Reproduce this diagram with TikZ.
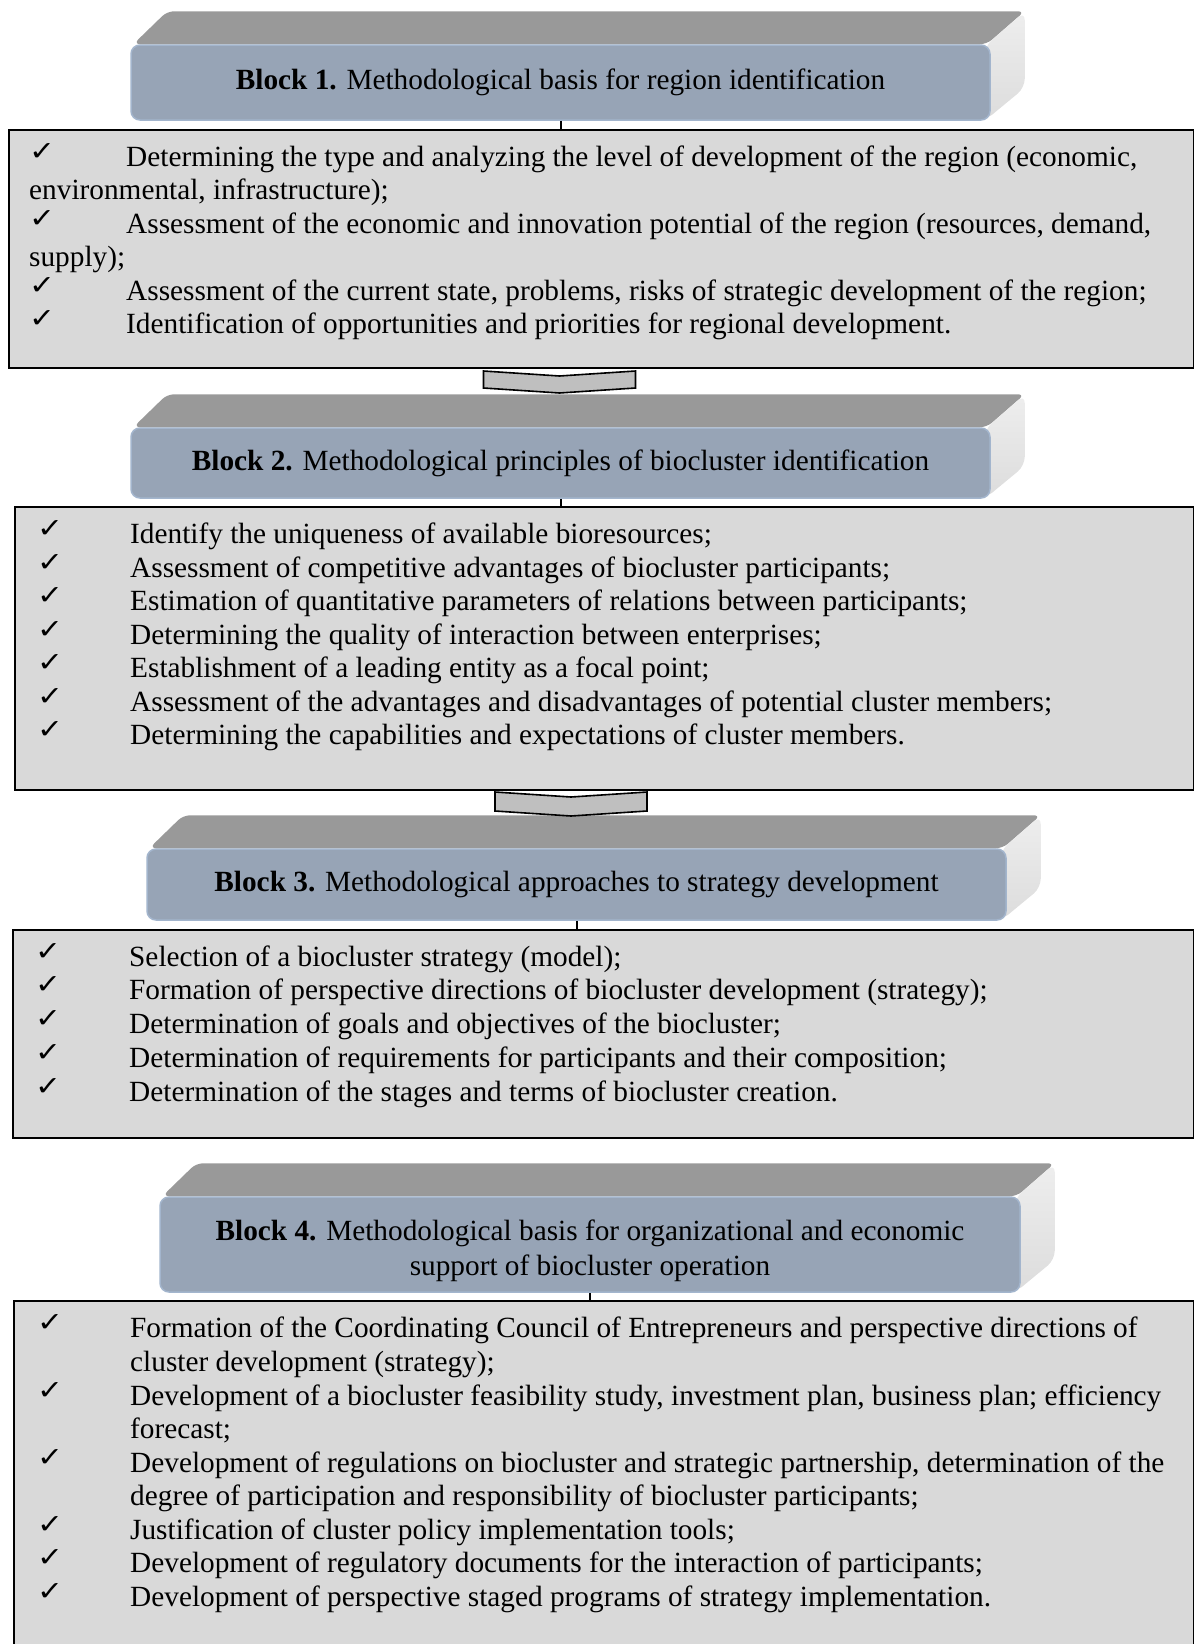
\documentclass[tikz,border=0pt]{standalone}
\usepackage{fontspec}
\setmainfont{Liberation Serif}
\newfontfamily\chkfam{DejaVu Sans}
\usetikzlibrary{calc,backgrounds}
\definecolor{frontfill}{HTML}{97A4B6}
\definecolor{frontborder}{HTML}{A3B5CD}
\definecolor{topgray}{HTML}{999999}
\definecolor{sidegray}{HTML}{DCDCDC}
\definecolor{sidelight}{HTML}{EEEEEE}
\definecolor{boxfill}{HTML}{D9D9D9}
\definecolor{chevfill}{HTML}{BFBFBF}
\newcommand{\bodyfont}{\fontsize{29.3}{35}\selectfont}
\newcommand{\chkfont}{\chkfam\fontsize{27}{27}\selectfont}
\newcommand{\chk}{\scalebox{1.15}[1]{✓}}
\tikzset{
  front/.style={draw=frontborder, line width=1.5pt, fill=frontfill, rounded corners=9pt,
    inner sep=0pt, align=center, font=\bodyfont},
  htext/.style={inner sep=0pt, align=center, font=\bodyfont},
  topface/.style={fill=topgray, rounded corners=7pt},
  sideface/.style={top color=sidelight, bottom color=sidegray, rounded corners=9pt},
  listbox/.style={draw=black, line width=2pt, fill=boxfill, inner sep=0pt, anchor=north west},
  item/.style={anchor=base west, inner sep=0pt, font=\bodyfont},
  tick/.style={anchor=base west, inner sep=0pt, font=\chkfont},
  chevron/.style={draw=black, line width=1.6pt, fill=chevfill, line join=miter},
  link/.style={draw=black, line width=2pt}
}
\begin{document}
\begin{tikzpicture}[x=1pt,y=-1pt]
\useasboundingbox (0,0) rectangle (1194,1644);
\clip (0,0) rectangle (1194,1644);

% headers (front faces)
\node[front, minimum width=859, minimum height=75] (h1) at (560.5,82.5)
  {\textbf{Block 1.} Methodological basis for region identification};
\node[front, minimum width=859, minimum height=70] (h2) at (560.5,463)
  {\textbf{Block 2.} Methodological principles of biocluster identification};
\node[front, minimum width=859, minimum height=71] (h3) at (576.5,884.5)
  {\textbf{Block 3.} Methodological approaches to strategy development};
\node[front, minimum width=860, minimum height=95] (h4) at (590,1244.5) {};
\node[htext] (h4t) at (590,1251) {\textbf{Block 4.} Methodological basis for organizational and economic\\[0pt]support of biocluster operation};

% top and side faces
\begin{pgfonlayer}{background}
\foreach \h in {h1,h2,h3,h4}{
  \fill[topface] ([xshift=3pt]\h.north west) -- ($(\h.north west)+(37,-33)$)
     -- ($(\h.north east)+(34,-33)$) -- ($(\h.north east)+(-4,0)$) -- cycle;
  \shade[sideface] ($(\h.north east)+(-6,2)$) -- ($(\h.north east)+(34,-33)$)
     -- ($(\h.south east)+(34,-33)$) -- ($(\h.south east)+(-6,0)$) -- cycle;
}
\end{pgfonlayer}

% list boxes
\node[listbox, minimum width=1185, minimum height=238] (b1) at (8,129) {};
\node[listbox, minimum width=1179, minimum height=283] (b2) at (14,506) {};
\node[listbox, minimum width=1181, minimum height=208] (b3) at (12,929) {};
\node[listbox, minimum width=1180, minimum height=400] (b4) at (13,1300) {};

% header-to-box links
\foreach \i in {1,2,3,4}{
  \draw[link] (h\i.south) -- (h\i.south |- b\i.north);
}

% chevrons between boxes and next headers
\path (b1.south west) ++(551.5,0) coordinate (v1);
\path (b2.south west) ++(557,0) coordinate (v2);
\draw[chevron] (v1) ++(-76,2) -- ++(76,5) -- ++(76,-5) -- ++(0,17) -- ++(-76,5) -- ++(-76,-5) -- cycle;
\draw[chevron] (v2) ++(-76,1) -- ++(76,5) -- ++(76,-5) -- ++(0,19) -- ++(-76,5) -- ++(-76,-5) -- cycle;

% Block 1 list
\node[tick] (k1-1) at (29,160) {\chk};
\node[item] (t1-1) at (126,166) {\makebox[1011pt][s]{Determining the type and analyzing the level of development of the region (economic,}};
\node[item] (t1-1b) at (29,199.5) {environmental, infrastructure);};
\node[tick] (k1-2) at (29,227) {\chk};
\node[item] (t1-2) at (126,233) {\makebox[1025pt][s]{Assessment of the economic and innovation potential of the region (resources, demand,}};
\node[item] (t1-2b) at (29,266.5) {supply);};
\node[tick] (k1-3) at (29,294) {\chk};
\node[item] (t1-3) at (126,300) {Assessment of the current state, problems, risks of strategic development of the region;};
\node[tick] (k1-4) at (29,327.5) {\chk};
\node[item] (t1-4) at (126,333.5) {Identification of opportunities and priorities for regional development.};

% Block 2 list
\foreach \t [count=\i] in {
  {Identify the uniqueness of available bioresources;},
  {Assessment of competitive advantages of biocluster participants;},
  {Estimation of quantitative parameters of relations between participants;},
  {Determining the quality of interaction between enterprises;},
  {Establishment of a leading entity as a focal point;},
  {Assessment of the advantages and disadvantages of potential cluster members;},
  {Determining the capabilities and expectations of cluster members.}}{
  \node[tick] (k2-\i) at (37,{537.5+33.55*(\i-1)}) {\chk};
  \node[item] (t2-\i) at (130,{543.5+33.55*(\i-1)}) {\t};
}

% Block 3 list
\foreach \t [count=\i] in {
  {Selection of a biocluster strategy (model);},
  {Formation of perspective directions of biocluster development (strategy);},
  {Determination of goals and objectives of the biocluster;},
  {Determination of requirements for participants and their composition;},
  {Determination of the stages and terms of biocluster creation.}}{
  \node[tick] (k3-\i) at (35,{960+33.75*(\i-1)}) {\chk};
  \node[item] (t3-\i) at (129,{966+33.75*(\i-1)}) {\t};
}

% Block 4 list
\node[tick] (k4-1) at (37,1331) {\chk};
\node[item] (t4-1) at (130,1337) {Formation of the Coordinating Council of Entrepreneurs and perspective directions of};
\node[item] (t4-1b) at (130,1371) {cluster development (strategy);};
\node[tick] (k4-2) at (37,1399) {\chk};
\node[item] (t4-2) at (130,1405) {Development of a biocluster feasibility study, investment plan, business plan; efficiency};
\node[item] (t4-2b) at (130,1438.5) {forecast;};
\node[tick] (k4-3) at (37,1466) {\chk};
\node[item] (t4-3) at (130,1472) {Development of regulations on biocluster and strategic partnership, determination of the};
\node[item] (t4-3b) at (130,1505.5) {degree of participation and responsibility of biocluster participants;};
\node[tick] (k4-4) at (37,1533) {\chk};
\node[item] (t4-4) at (130,1539) {Justification of cluster policy implementation tools;};
\node[tick] (k4-5) at (37,1566.5) {\chk};
\node[item] (t4-5) at (130,1572.5) {Development of regulatory documents for the interaction of participants;};
\node[tick] (k4-6) at (37,1600) {\chk};
\node[item] (t4-6) at (130,1606) {Development of perspective staged programs of strategy implementation.};
\end{tikzpicture}
\end{document}
